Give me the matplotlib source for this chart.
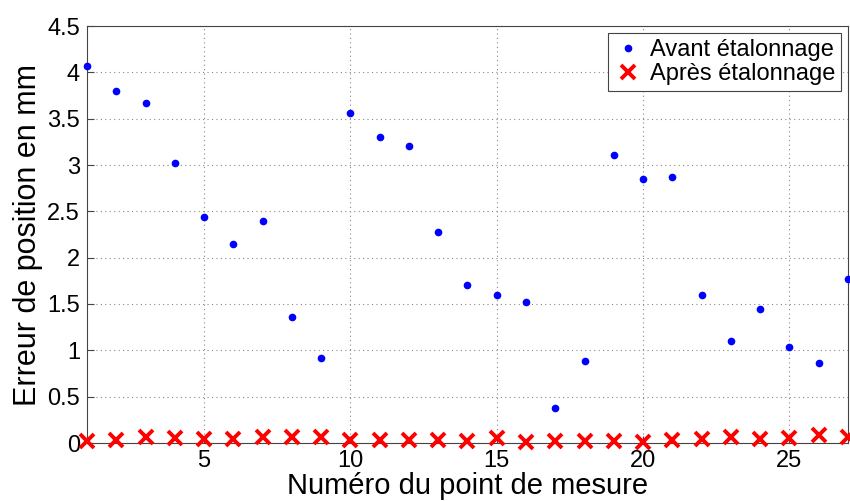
import numpy as np
import matplotlib
matplotlib.use('Agg')
import matplotlib.pyplot as plt

# Numéro du point de mesure
points = np.arange(1, 28)

# Erreur de position (mm) avant étalonnage
avant = [4.07, 3.80, 3.67, 3.02, 2.44, 2.15, 2.40, 1.36, 0.92,
         3.56, 3.30, 3.20, 2.28, 1.70, 1.60, 1.52, 0.38, 0.88,
         3.11, 2.85, 2.87, 1.60, 1.10, 1.45, 1.04, 0.86, 1.77]

# Erreur de position (mm) après étalonnage
apres = [0.02, 0.03, 0.07, 0.05, 0.04, 0.04, 0.07, 0.06, 0.07,
         0.03, 0.03, 0.03, 0.03, 0.02, 0.05, 0.01, 0.02, 0.02,
         0.02, 0.01, 0.03, 0.04, 0.06, 0.04, 0.05, 0.09, 0.07]

plt.rcParams['font.family'] = ['Liberation Sans', 'DejaVu Sans']

fig = plt.figure(figsize=(8.5, 5.01), dpi=100)
ax = fig.add_axes([87 / 850, 1 - 443 / 501, (848 - 87) / 850, (443 - 26) / 501])

ax.plot(points, avant, '.', color='#0000ff', markersize=9, label='Avant étalonnage', clip_on=False, zorder=3)
ax.plot(points, apres, 'x', color='#ff0000', markersize=10, markeredgewidth=2.8,
        label='Après étalonnage', clip_on=False, zorder=3)

ax.set_xlim(1, 27)
ax.set_ylim(0, 4.5)
ax.set_xticks([5, 10, 15, 20, 25])
ax.set_yticks(np.arange(0, 4.51, 0.5))
ax.set_yticklabels(['0', '0.5', '1', '1.5', '2', '2.5', '3', '3.5', '4', '4.5'])
ax.grid(True, linestyle=(0, (1, 3)), color='#888888', linewidth=0.8)
ax.tick_params(labelsize=17, direction='in', length=5, color='#444444', width=0.8)
ax.tick_params(axis='x', pad=5)
ax.tick_params(axis='y', pad=5)
for s in ax.spines.values():
    s.set_color('#444444')
    s.set_linewidth(0.8)

ax.set_xlabel('Numéro du point de mesure', fontsize=21, labelpad=0)
ax.set_ylabel('Erreur de position en mm', fontsize=22, labelpad=3)

leg = ax.legend(loc='upper right', fontsize=17, fancybox=False, framealpha=1,
                edgecolor='#444444', borderpad=0.25, handletextpad=0.3,
                labelspacing=0.1, handlelength=1.2, borderaxespad=0.3)
leg.get_frame().set_linewidth(0.8)

fig.savefig('out.png', dpi=100)
